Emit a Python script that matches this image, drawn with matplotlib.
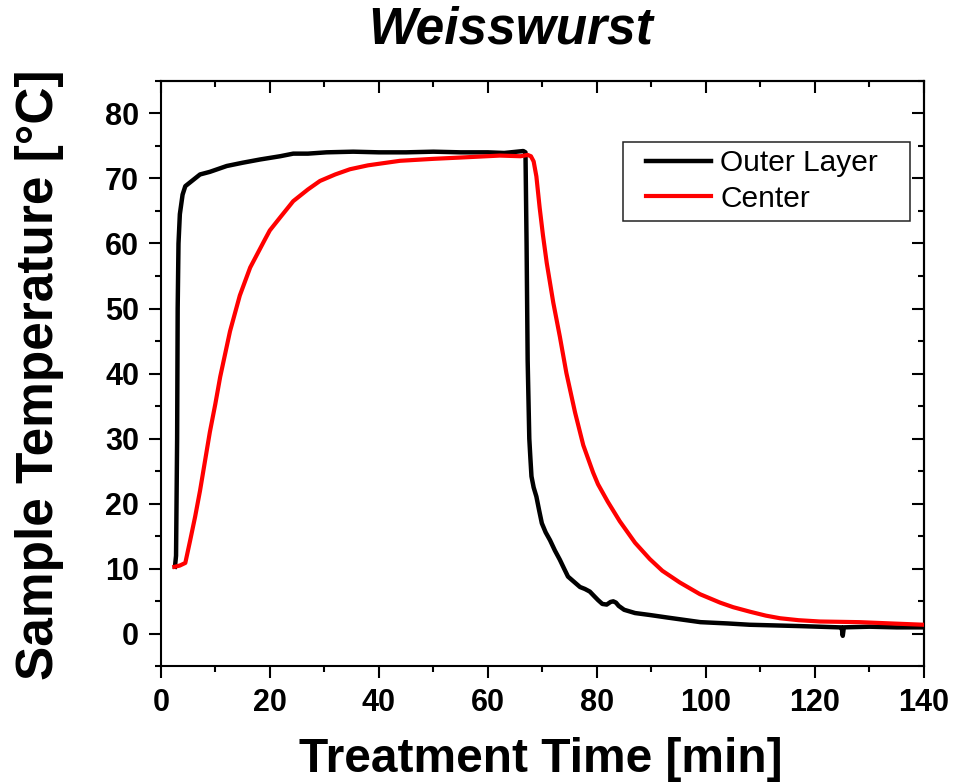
import matplotlib.pyplot as plt
from matplotlib.patches import Rectangle

plt.rcParams['font.family'] = ['Liberation Sans', 'DejaVu Sans']

# Outer layer temperature (time in min, temperature in degC)
outer_t = [2.6, 2.8, 3.0, 3.1, 3.25, 3.5, 4.0, 4.5, 5.4, 7.2, 9.0, 12.1, 15.0,
           18.2, 21.9, 24.3, 27.0, 30.4, 35.3, 40.0, 45.0, 50.0, 55.0, 60.0,
           63.0, 66.5, 66.9, 67.1, 67.3, 67.6, 67.8, 68.0, 68.4, 68.9, 69.4,
           69.9, 70.6, 71.4, 72.3, 73.2, 74.0, 74.7, 75.8, 76.9, 77.8, 78.7,
           79.5, 80.2, 81.0, 81.8, 82.5, 83.0, 83.5, 84.0, 85.0, 87.0, 89.7,
           93.0, 99.0, 104.0, 108.0, 117.0, 124.5, 124.9, 125.1, 125.3, 130.0,
           135.0, 140.0]
outer_T = [10.3, 12.0, 30.0, 50.0, 60.0, 64.5, 67.5, 68.8, 69.4, 70.6, 71.0,
           71.9, 72.4, 72.9, 73.4, 73.8, 73.8, 74.0, 74.1, 74.0, 74.0, 74.1,
           74.0, 74.0, 73.9, 74.2, 74.0, 60.0, 42.0, 30.0, 27.0, 24.2, 22.5,
           21.1, 19.0, 17.0, 15.6, 14.4, 12.8, 11.4, 10.0, 8.8, 8.0, 7.2, 6.9,
           6.5, 5.8, 5.2, 4.6, 4.5, 4.9, 5.0, 4.8, 4.3, 3.7, 3.2, 2.9, 2.5,
           1.8, 1.6, 1.4, 1.2, 1.0, 1.0, -0.3, 1.0, 1.1, 1.0, 1.0]

# Center temperature
center_t = [2.5, 3.5, 4.5, 5.4, 6.3, 7.2, 8.1, 9.0, 10.0, 10.9, 12.7, 14.5,
            16.4, 19.1, 20.0, 21.9, 24.3, 27.0, 29.2, 32.0, 34.7, 38.0, 43.9,
            50.0, 55.0, 62.2, 66.0, 67.3, 67.9, 68.4, 68.9, 69.5, 70.1, 70.8,
            72.0, 73.2, 74.4, 76.0, 77.5, 79.3, 80.2, 82.0, 84.2, 87.0, 89.7,
            92.0, 95.2, 98.9, 102.6, 105.0, 108.1, 111.0, 113.6, 117.0, 120.9,
            128.2, 134.0, 140.0]
center_T = [10.3, 10.5, 10.9, 14.4, 18.0, 22.0, 26.5, 31.0, 35.3, 39.5, 46.5,
            52.0, 56.3, 60.6, 62.0, 64.0, 66.5, 68.3, 69.6, 70.6, 71.4, 72.0,
            72.7, 73.0, 73.2, 73.5, 73.4, 73.6, 73.4, 72.6, 70.3, 65.5, 61.3,
            57.0, 50.9, 45.7, 40.1, 34.0, 29.0, 24.8, 23.0, 20.3, 17.3, 14.0,
            11.5, 9.7, 7.9, 6.1, 4.8, 4.1, 3.4, 2.8, 2.4, 2.1, 1.9, 1.8, 1.6,
            1.4]

fig = plt.figure(figsize=(9.57, 7.84), dpi=100)
ax = fig.add_axes([0.168, 0.150, 0.7975, 0.747])

ax.plot(outer_t, outer_T, color='black', lw=3.2, label='Outer Layer', zorder=3)
ax.plot(center_t, center_T, color='red', lw=3.0, label='Center', zorder=4)

ax.set_xlim(0, 140)
ax.set_ylim(-5, 85)
ax.set_xticks(range(0, 141, 20))
ax.set_xticks(range(0, 141, 10), minor=True)
ax.set_yticks(range(0, 81, 10))
ax.set_yticks(range(-5, 86, 5), minor=True)

for s in ax.spines.values():
    s.set_linewidth(1.5)

ax.tick_params(which='major', direction='out', length=8.5, width=1.5,
               labelsize=22, pad=7)
ax.tick_params(which='minor', direction='out', length=4.5, width=1.5)
for lab in ax.get_xticklabels() + ax.get_yticklabels():
    lab.set_fontweight('bold')

# inward ticks on the top and right sides
top = ax.secondary_xaxis('top')
top.set_xticks(range(0, 141, 20))
top.set_xticks(range(0, 141, 10), minor=True)
top.tick_params(which='major', direction='in', length=8.5, width=1.5,
                labeltop=False)
top.tick_params(which='minor', direction='in', length=4.5, width=1.5)
right = ax.secondary_yaxis('right')
right.set_yticks(range(0, 81, 10))
right.set_yticks(range(-5, 86, 5), minor=True)
right.tick_params(which='major', direction='in', length=8.5, width=1.5,
                  labelright=False)
right.tick_params(which='minor', direction='in', length=4.5, width=1.5)
for sec in (top, right):
    for s in sec.spines.values():
        s.set_linewidth(1.5)

# legend with a square frame
ax.add_patch(Rectangle((0.605, 0.761), 0.3767, 0.1346, transform=ax.transAxes,
                       fill=False, edgecolor='#222222', lw=1.1, zorder=5))
ax.legend(loc='center left', bbox_to_anchor=(0.6354, 0.8288), frameon=False,
          fontsize=21.5, borderpad=0, borderaxespad=0, handlelength=2.2,
          handletextpad=0.3, labelspacing=0.25)

fig.text(0.534, 0.945, 'Weisswurst', fontsize=37, fontweight='bold',
         fontstyle='italic', ha='center', va='baseline')
fig.text(0.565, 0.0153, 'Treatment Time [min]', fontsize=34.5,
         fontweight='bold', ha='center', va='baseline')
fig.text(0.0413, 0.522, 'Sample Temperature [°C]', fontsize=37,
         fontweight='bold', rotation=90, ha='center', va='center')

fig.savefig('out.png', dpi=100)
